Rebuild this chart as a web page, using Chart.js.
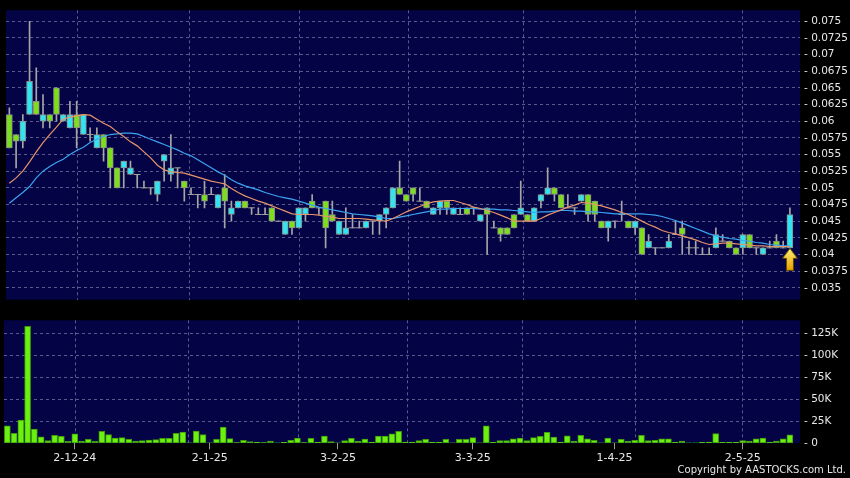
<!DOCTYPE html>
<html>
<head>
<meta charset="utf-8">
<script src="https://cdn.jsdelivr.net/npm/chart.js@4.4.1/dist/chart.umd.min.js"></script>
<style>
  body { margin: 0; background: #000; width: 850px; height: 478px; overflow: hidden; position: relative; font-family: "DejaVu Sans", sans-serif; }
  #pricebox { position: absolute; left: 0; top: 0; width: 850px; height: 310px; }
  #volbox { position: absolute; left: 0; top: 310px; width: 850px; height: 168px; }
  #copy { position: absolute; right: 4px; top: 464px; color: #e6e6e6; font-size: 10px; line-height: 12px; }
</style>
</head>
<body>
<div id="pricebox"><canvas id="priceChart"></canvas></div>
<div id="volbox"><canvas id="volChart"></canvas></div>
<div id="copy">Copyright by AASTOCKS.com Ltd.</div>
<script>
// trading days, last label left empty (spare slot on the right)
const dates = [
  '18-11-24','19-11-24','20-11-24','21-11-24','22-11-24','25-11-24','26-11-24','27-11-24','28-11-24','29-11-24',
  '2-12-24','3-12-24','4-12-24','5-12-24','6-12-24','9-12-24','10-12-24','11-12-24','12-12-24','13-12-24',
  '16-12-24','17-12-24','18-12-24','19-12-24','20-12-24','23-12-24','24-12-24','27-12-24','30-12-24','31-12-24',
  '2-1-25','3-1-25','6-1-25','7-1-25','8-1-25','9-1-25','10-1-25','13-1-25','14-1-25','15-1-25',
  '16-1-25','17-1-25','20-1-25','21-1-25','22-1-25','23-1-25','24-1-25','27-1-25','28-1-25',
  '3-2-25','4-2-25','5-2-25','6-2-25','7-2-25','10-2-25','11-2-25','12-2-25','13-2-25','14-2-25',
  '17-2-25','18-2-25','19-2-25','20-2-25','21-2-25','24-2-25','25-2-25','26-2-25','27-2-25','28-2-25',
  '3-3-25','4-3-25','5-3-25','6-3-25','7-3-25','10-3-25','11-3-25','12-3-25','13-3-25','14-3-25',
  '17-3-25','18-3-25','19-3-25','20-3-25','21-3-25','24-3-25','25-3-25','26-3-25','27-3-25','28-3-25','31-3-25',
  '1-4-25','2-4-25','3-4-25','7-4-25','8-4-25','9-4-25','10-4-25','11-4-25','14-4-25','15-4-25',
  '16-4-25','17-4-25','22-4-25','23-4-25','24-4-25','25-4-25','28-4-25','29-4-25','30-4-25',
  '2-5-25','6-5-25','7-5-25','8-5-25','9-5-25','12-5-25','13-5-25','14-5-25',
  ''
];
const tickLabels = ['2-12-24', '2-1-25', '3-2-25', '3-3-25', '1-4-25', '2-5-25'];
const priceTicks = [0.035, 0.0375, 0.04, 0.0425, 0.045, 0.0475, 0.05, 0.0525, 0.055, 0.0575,
                    0.06, 0.0625, 0.065, 0.0675, 0.07, 0.0725, 0.075];
const volTicks = [0, 25, 50, 75, 100, 125]; // thousands

const opens = [
  .061,.058,.057,.061,.063,.060,.061,.065,.060,.059,
  .061,.058,.058,.056,.058,.056,.053,.053,.052,.052,
  .050,.050,.049,.054,.052,.053,.051,.049,.049,.049,
  .049,.047,.050,.046,.047,.048,.047,.046,.046,.047,
  .045,.043,.045,.044,.046,.048,.047,.048,.046,.043,
  .043,.044,.044,.044,.045,.045,.046,.047,.050,.049,
  .050,.048,.048,.046,.047,.048,.046,.046,.047,.047,
  .045,.047,.044,.044,.044,.046,.046,.046,.045,.048,
  .049,.050,.049,.047,.047,.048,.049,.048,.045,.044,
  .045,.046,.045,.044,.044,.041,.041,.041,.041,.043,
  .044,.041,.041,.040,.040,.041,.042,.042,.041,.041,
  .043,.041,.040,.041,.042,.041,.041
];
const highs = [
  .062,.058,.061,.075,.068,.064,.061,.065,.061,.063,
  .063,.061,.059,.059,.058,.056,.053,.054,.054,.052,
  .051,.050,.051,.055,.058,.053,.051,.050,.049,.051,
  .050,.049,.052,.048,.048,.048,.047,.047,.047,.047,
  .045,.045,.045,.047,.047,.049,.047,.048,.048,.045,
  .047,.046,.045,.045,.045,.046,.047,.050,.054,.049,
  .050,.050,.048,.047,.048,.048,.047,.047,.047,.047,
  .046,.047,.045,.044,.044,.046,.051,.046,.047,.049,
  .053,.050,.049,.049,.047,.049,.049,.048,.045,.045,
  .045,.048,.045,.045,.044,.043,.041,.041,.043,.045,
  .045,.042,.042,.041,.041,.044,.043,.042,.041,.043,
  .043,.041,.041,.042,.043,.042,.047
];
const lows = [
  .056,.053,.056,.061,.061,.059,.059,.060,.060,.059,
  .056,.058,.057,.056,.054,.050,.050,.050,.052,.050,
  .050,.049,.048,.051,.051,.050,.048,.049,.047,.047,
  .049,.047,.044,.045,.047,.047,.046,.046,.046,.045,
  .045,.043,.043,.044,.045,.047,.046,.041,.045,.043,
  .043,.044,.044,.044,.043,.043,.044,.047,.049,.048,
  .048,.048,.047,.046,.046,.046,.046,.046,.046,.046,
  .045,.040,.044,.042,.043,.044,.046,.045,.045,.047,
  .049,.048,.047,.047,.046,.048,.045,.045,.044,.042,
  .044,.045,.044,.043,.040,.041,.040,.041,.041,.043,
  .040,.040,.040,.040,.040,.041,.042,.041,.040,.040,
  .041,.040,.040,.041,.041,.041,.041
];
const closes = [
  .056,.057,.060,.066,.061,.061,.060,.061,.061,.061,
  .059,.061,.058,.058,.056,.053,.050,.054,.053,.052,
  .050,.050,.051,.055,.053,.053,.050,.049,.049,.048,
  .049,.049,.048,.047,.048,.047,.047,.046,.046,.045,
  .045,.045,.044,.047,.047,.047,.047,.044,.045,.045,
  .044,.044,.044,.045,.045,.046,.047,.050,.049,.048,
  .049,.048,.047,.047,.048,.047,.047,.046,.046,.047,
  .046,.046,.044,.043,.043,.044,.047,.045,.047,.049,
  .050,.049,.047,.047,.047,.049,.046,.046,.044,.045,
  .045,.046,.044,.045,.040,.042,.041,.041,.042,.043,
  .043,.041,.041,.040,.040,.043,.042,.041,.040,.043,
  .041,.041,.041,.041,.041,.041,.046
];
// moving averages
const ma10 = [
  .0507,.0515,.0525,.0539,.0554,.0568,.0580,.0591,.0603,.0606,
  .0608,.0610,.0609,.0603,.0597,.0592,.0584,.0577,.0569,.0563,
  .0554,.0545,.0534,.0527,.0524,.0523,.0522,.0519,.0516,.0513,
  .0510,.0508,.0506,.0499,.0493,.0488,.0484,.0480,.0477,.0473,
  .0469,.0465,.0461,.0460,.0460,.0460,.0459,.0457,.0456,.0454,
  .0454,.0454,.0454,.0453,.0452,.0451,.0450,.0454,.0459,.0464,
  .0468,.0472,.0476,.0479,.0480,.0481,.0481,.0478,.0475,.0471,
  .0469,.0466,.0463,.0459,.0455,.0450,.0450,.0450,.0450,.0454,
  .0459,.0463,.0467,.0471,.0474,.0478,.0477,.0475,.0473,.0470,
  .0467,.0463,.0460,.0455,.0450,.0445,.0441,.0436,.0433,.0431,
  .0428,.0425,.0422,.0418,.0415,.0416,.0417,.0417,.0416,.0415,
  .0414,.0413,.0413,.0412,.0412,.0412,.0412
];
const ma20 = [
  .0477,.0485,.0493,.0502,.0515,.0525,.0532,.0538,.0543,.0550,
  .0556,.0561,.0568,.0573,.0577,.0580,.0581,.0582,.0582,.0581,
  .0577,.0573,.0569,.0565,.0561,.0557,.0552,.0548,.0542,.0536,
  .0530,.0524,.0519,.0512,.0507,.0503,.0500,.0497,.0493,.0490,
  .0487,.0485,.0483,.0480,.0477,.0474,.0471,.0469,.0467,.0465,
  .0463,.0461,.0460,.0459,.0458,.0456,.0454,.0454,.0456,.0458,
  .0460,.0462,.0464,.0466,.0468,.0468,.0469,.0469,.0469,.0469,
  .0468,.0468,.0468,.0467,.0467,.0466,.0465,.0464,.0463,.0464,
  .0464,.0465,.0466,.0466,.0465,.0465,.0464,.0464,.0463,.0462,
  .0461,.0461,.0461,.0461,.0461,.0460,.0459,.0457,.0454,.0451,
  .0447,.0443,.0439,.0435,.0431,.0428,.0426,.0424,.0423,.0421,
  .0420,.0418,.0417,.0415,.0414,.0413,.0413
];
// volume in thousands
const volumes = [
  20, 11.3, 26.3, 133, 16.1, 7.5, 3, 9, 7.9, 2.3,
  10.9, 2.6, 4.5, 2.3, 13.5, 9.8, 6, 6.4, 4.5, 2.6,
  3, 3.8, 4.1, 5.6, 5.6, 11.3, 12.8, 0.3, 13.9, 9.8,
  0.3, 4.5, 18.4, 5.3, 0.8, 3.4, 1.9, 1.1, 0.8, 2.6,
  0.3, 1.1, 3.4, 6, 0.8, 5.6, 1.5, 8.3, 1.9, 0.3,
  3, 5.6, 2.6, 4.9, 1.5, 8.3, 8.3, 10.9, 13.5, 1.5,
  1.5, 3, 4.5, 1.5, 1.5, 4.5, 0.5, 4.5, 4.5, 6.5,
  0.5, 20, 1, 3, 3, 5, 6, 3, 6.5, 8,
  12.5, 7, 1.5, 8.5, 2.5, 9, 5, 3.5, 0.5, 6,
  0.3, 4.5, 2.5, 3.5, 9, 3, 3.5, 5, 5, 1,
  2.5, 0.3, 0.3, 1, 1.5, 11, 1, 1, 1, 3,
  2.5, 5, 6, 1, 2.5, 5, 9.5
];
const signalIdx = 116; // yellow arrow under the last candle

const CYAN = '#30e4f0';
const GREEN = '#7ddf1c';
const GRID = '#5a5a8c';
const NAVY = '#030346';
const TXT = '#e8e8e8';

Chart.defaults.font.family = '"DejaVu Sans", sans-serif';
Chart.defaults.font.size = 10.5;
Chart.defaults.color = TXT;

const wicks = lows.map((l, i) => [l, highs[i]]);
const bodies = opens.map((o, i) => o === closes[i] ? null : [Math.min(o, closes[i]), Math.max(o, closes[i])]);
const bodyColors = opens.map((o, i) => closes[i] > o ? CYAN : GREEN);
const dojis = opens.map((o, i) => o === closes[i] ? o : null);
const signal = lows.map((l, i) => i === signalIdx ? l : null);

// arrow marker, drawn in the lower half so its tip sits on the point
const arrow = document.createElement('canvas');
arrow.width = 16; arrow.height = 46;
const actx = arrow.getContext('2d');
const grad = actx.createLinearGradient(0, 23, 0, 45);
grad.addColorStop(0, '#fff47a');
grad.addColorStop(1, '#e6a100');
actx.beginPath();
actx.moveTo(8, 23.5);
actx.lineTo(15.5, 33.5);
actx.lineTo(11.5, 33.5);
actx.lineTo(11.5, 45.5);
actx.lineTo(4.5, 45.5);
actx.lineTo(4.5, 33.5);
actx.lineTo(0.5, 33.5);
actx.closePath();
actx.fillStyle = grad;
actx.fill();
actx.strokeStyle = '#6b4a00';
actx.lineWidth = 1;
actx.stroke();

const plotBg = {
  id: 'plotBg',
  beforeDraw(chart) {
    const { ctx, chartArea: a } = chart;
    ctx.save();
    ctx.fillStyle = NAVY;
    ctx.fillRect(a.left, a.top, a.right - a.left, a.bottom - a.top);
    ctx.restore();
  }
};

function dateTicks(scale) {
  scale.ticks = scale.ticks.filter(t => tickLabels.includes(dates[t.value]));
}

// vertical grid sits on the right edge of the labelled day's slot
const gridAxis = {
  type: 'linear',
  position: 'bottom',
  min: -0.5,
  max: dates.length - 0.5,
  afterBuildTicks: s => { s.ticks = tickLabels.map(l => ({ value: dates.indexOf(l) + 0.5 })); },
  afterFit: s => { s.height = 0; },
  ticks: { display: false },
  grid: { color: GRID, drawTicks: false },
  border: { display: false, dash: [3, 3] }
};

const priceChart = new Chart(document.getElementById('priceChart'), {
  type: 'bar',
  data: {
    labels: dates,
    datasets: [
      { type: 'line', data: ma10, borderColor: '#e8946a', borderWidth: 1.2, pointRadius: 0, order: 0 },
      { type: 'line', data: ma20, borderColor: '#3ca4f2', borderWidth: 1.2, pointRadius: 0, order: 0 },
      { type: 'line', data: signal, showLine: false, pointStyle: arrow, pointRadius: 5, order: -1 },
      { type: 'line', data: dojis, showLine: false, pointStyle: 'line', pointRadius: 3.3,
        pointBorderColor: '#a0a0a0', pointBorderWidth: 1, order: 1 },
      { data: bodies, backgroundColor: bodyColors, borderColor: '#8a8a8a', borderWidth: 1,
        borderSkipped: false, barThickness: 6, grouped: false, order: 2 },
      { data: wicks, backgroundColor: '#a6a6a6', borderWidth: 0, barThickness: 1, grouped: false, order: 3 }
    ]
  },
  options: {
    responsive: true,
    maintainAspectRatio: false,
    animation: false,
    events: [],
    layout: { padding: { left: 4, top: 6, right: 0, bottom: 5 } },
    plugins: { legend: { display: false }, tooltip: { enabled: false } },
    scales: {
      x: {
        afterBuildTicks: dateTicks,
        afterFit: s => { s.height = 0; },
        ticks: { display: false, autoSkip: false },
        grid: { display: false },
        border: { display: false }
      },
      xg: gridAxis,
      y: {
        position: 'right',
        min: 0.033214,
        max: 0.076643,
        afterBuildTicks: s => { s.ticks = priceTicks.map(v => ({ value: v })); },
        afterFit: s => { s.width = 50; },
        ticks: { padding: 4, color: TXT, callback: v => '- ' + v },
        grid: { color: GRID, drawTicks: false },
        border: { display: false, dash: [3, 3] }
      }
    }
  },
  plugins: [plotBg]
});

const volChart = new Chart(document.getElementById('volChart'), {
  type: 'bar',
  data: {
    labels: dates,
    datasets: [{
      data: volumes,
      backgroundColor: '#6cf012',
      borderColor: '#3f9a0a',
      borderWidth: 1,
      borderSkipped: false,
      barThickness: 6
    }]
  },
  options: {
    responsive: true,
    maintainAspectRatio: false,
    animation: false,
    events: [],
    layout: { padding: { left: 4, top: 9, right: 0, bottom: 0 } },
    plugins: { legend: { display: false }, tooltip: { enabled: false } },
    scales: {
      x: {
        afterBuildTicks: dateTicks,
        afterFit: s => { s.height = 34.7; },
        ticks: { autoSkip: false, maxRotation: 0, padding: 2, color: TXT, font: { size: 11 } },
        grid: { offset: false, drawOnChartArea: false, drawTicks: true, tickLength: 6, tickColor: '#9a9a9a' },
        border: { display: false }
      },
      xg: gridAxis,
      y: {
        position: 'right',
        min: 0,
        max: 140,
        afterBuildTicks: s => { s.ticks = volTicks.map(v => ({ value: v })); },
        afterFit: s => { s.width = 50; },
        ticks: { padding: 4, color: TXT, callback: v => v === 0 ? '- 0' : '- ' + v + 'K' },
        grid: { color: c => c.tick && c.tick.value === 0 ? 'rgba(0,0,0,0)' : GRID, drawTicks: false },
        border: { display: false, dash: [3, 3] }
      }
    }
  },
  plugins: [plotBg]
});
</script>
</body>
</html>
